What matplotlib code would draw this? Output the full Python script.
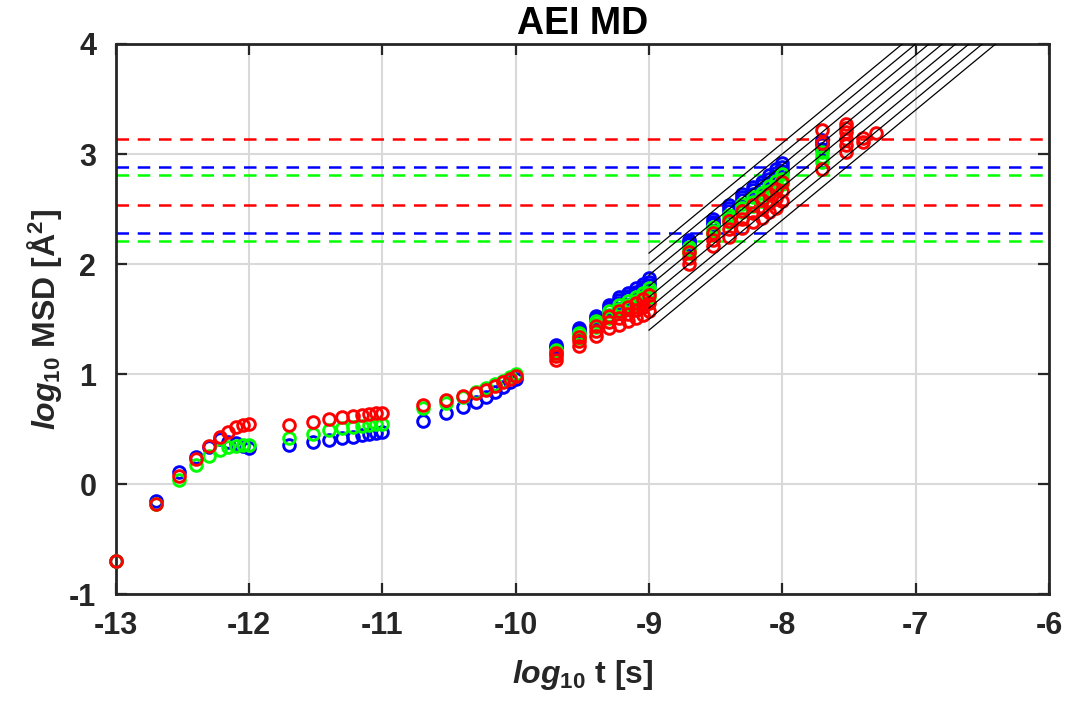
# -*- coding: utf-8 -*-

import numpy as np
import matplotlib
matplotlib.use("Agg")
import matplotlib.pyplot as plt

# sampling times [s] (short part: one value per colour)
t_short = [1e-13, 2e-13, 3e-13, 4e-13, 5e-13, 6e-13, 7e-13, 8e-13, 9e-13, 1e-12,
           2e-12, 3e-12, 4e-12, 5e-12, 6e-12, 7e-12, 8e-12, 9e-12, 1e-11,
           2e-11, 3e-11, 4e-11, 5e-11, 6e-11, 7e-11, 8e-11, 9e-11, 1e-10]

blue_short = [-0.70, -0.15, 0.11, 0.25, 0.34, 0.41, 0.38, 0.37, 0.35, 0.33,
              0.355, 0.385, 0.40, 0.415, 0.43, 0.445, 0.455, 0.466, 0.475,
              0.575, 0.65, 0.70, 0.75, 0.79, 0.84, 0.885, 0.93, 0.96]
green_short = [-0.70, -0.18, 0.04, 0.17, 0.26, 0.31, 0.34, 0.345, 0.355, 0.355,
               0.415, 0.46, 0.49, 0.506, 0.52, 0.527, 0.536, 0.545, 0.55,
               0.69, 0.74, 0.79, 0.84, 0.87, 0.906, 0.94, 0.975, 1.0]
red_short = [-0.70, -0.18, 0.07, 0.23, 0.35, 0.43, 0.475, 0.515, 0.54, 0.55,
             0.536, 0.566, 0.588, 0.606, 0.618, 0.627, 0.636, 0.643, 0.65,
             0.718, 0.764, 0.80, 0.825, 0.86, 0.89, 0.93, 0.96, 0.98]

# long part: three runs per colour
t_long = [2e-10, 3e-10, 4e-10, 5e-10, 6e-10, 7e-10, 8e-10, 9e-10, 1e-9,
          2e-9, 3e-9, 4e-9, 5e-9, 6e-9, 7e-9, 8e-9, 9e-9, 1e-8, 2e-8]

blue_long = [
    [1.26, 1.42, 1.53, 1.63, 1.70, 1.74, 1.78, 1.82, 1.87, 2.22, 2.41, 2.54, 2.64, 2.70, 2.75, 2.81, 2.86, 2.92, 3.13],
    [1.25, 1.40, 1.51, 1.61, 1.675, 1.71, 1.75, 1.79, 1.84, 2.20, 2.385, 2.51, 2.61, 2.67, 2.72, 2.775, 2.825, 2.885, 3.09],
    [1.23, 1.39, 1.49, 1.59, 1.65, 1.69, 1.73, 1.76, 1.81, 2.18, 2.36, 2.48, 2.58, 2.635, 2.685, 2.74, 2.79, 2.85, 3.05],
]
green_long = [
    [1.22, 1.37, 1.48, 1.57, 1.625, 1.66, 1.70, 1.74, 1.78, 2.155, 2.335, 2.45, 2.55, 2.605, 2.65, 2.71, 2.755, 2.815, 3.02],
    [1.205, 1.35, 1.455, 1.54, 1.595, 1.63, 1.665, 1.70, 1.745, 2.13, 2.305, 2.42, 2.51, 2.565, 2.61, 2.665, 2.71, 2.77, 2.97],
    [1.19, 1.33, 1.43, 1.51, 1.56, 1.60, 1.63, 1.665, 1.705, 2.10, 2.27, 2.38, 2.47, 2.525, 2.57, 2.625, 2.67, 2.73, 2.93],
]
red_long = [
    [1.195, 1.34, 1.44, 1.525, 1.575, 1.61, 1.645, 1.68, 1.72, 2.11, 2.285, 2.395, 2.485, 2.54, 2.585, 2.64, 2.685, 2.745, 3.22],
    [1.16, 1.30, 1.395, 1.47, 1.51, 1.545, 1.58, 1.61, 1.645, 2.055, 2.22, 2.32, 2.41, 2.46, 2.50, 2.555, 2.60, 2.66, 3.10],
    [1.13, 1.255, 1.35, 1.42, 1.45, 1.48, 1.51, 1.54, 1.57, 2.00, 2.16, 2.25, 2.33, 2.38, 2.42, 2.47, 2.51, 2.57, 2.86],
]

# red runs that go on past 2e-8 s
t_red_tail = [3e-8, 3e-8, 3e-8, 3e-8, 3e-8, 3e-8, 4e-8, 4e-8, 5e-8]
red_tail = [3.27, 3.24, 3.20, 3.14, 3.08, 3.02, 3.15, 3.11, 3.19]

# plateau levels (dashed) and slope-1 guide lines
blue_levels = [2.88, 2.28]
green_levels = [2.81, 2.21]
red_levels = [3.14, 2.54]
guide_offsets = [2.1, 2.0, 1.9, 1.8, 1.7, 1.6, 1.5, 1.4]

plt.rcParams['font.family'] = ['Liberation Sans', 'DejaVu Sans']
plt.rcParams['font.weight'] = 'bold'
plt.rcParams['axes.unicode_minus'] = False
plt.rcParams['mathtext.fontset'] = 'custom'
plt.rcParams['mathtext.rm'] = 'Liberation Sans:bold'
plt.rcParams['mathtext.bf'] = 'Liberation Sans:bold'
plt.rcParams['mathtext.it'] = 'Liberation Sans:italic:bold'

dark = (0.15, 0.15, 0.15)
colors = {'blue': (0, 0, 1), 'green': (0, 1, 0), 'red': (1, 0, 0)}

fig = plt.figure(figsize=(10.72, 7.04), dpi=100)
ax = fig.add_axes([0.108, 0.156, 0.8705, 0.7815])

# dashed plateau levels
for name, levels in [('red', red_levels), ('blue', blue_levels), ('green', green_levels)]:
    for lv in levels:
        ax.axhline(lv, color=colors[name], lw=1.8, dashes=(5, 3.5), zorder=2)

mk = dict(marker='o', ls='none', mfc='none', ms=8.4, mew=2.1, zorder=3, clip_on=False)
ls = np.log10(t_short)
ll = np.log10(t_long)
for name, short, runs in [('blue', blue_short, blue_long),
                          ('green', green_short, green_long),
                          ('red', red_short, red_long)]:
    ax.plot(ls, short, mec=colors[name], **mk)
    for run in runs:
        ax.plot(ll, run, mec=colors[name], **mk)
ax.plot(np.log10(t_red_tail), red_tail, mec=colors['red'], **mk)

# slope-1 guide lines from log10 t = -9
gx = np.array([-9.0, -6.0])
for c in guide_offsets:
    ax.plot(gx, c + (gx + 9.0), color='k', lw=0.9, zorder=4)

ax.set_xlim(-13, -6)
ax.set_ylim(-1, 4)
ax.set_xticks(np.arange(-13, -5, 1))
ax.set_yticks(np.arange(-1, 5, 1))
ax.grid(True, color=(0.85, 0.85, 0.85), lw=1.5)
ax.set_axisbelow(True)
ax.tick_params(direction='in', length=8, width=1.6, top=True, right=True,
               labelsize=22, colors=dark)
ax.tick_params(axis='x', pad=12)
ax.tick_params(axis='y', pad=14)
for lab in ax.get_xticklabels() + ax.get_yticklabels():
    lab.set_fontweight('bold')
for sp in ax.spines.values():
    sp.set_linewidth(2.0)
    sp.set_color(dark)

ax.set_xlabel(r'$\mathit{log}_{\mathit{10}}$ t [s]', fontsize=23, color=dark,
              fontweight='bold', labelpad=12)
ax.set_ylabel(r'$\mathit{log}_{\mathit{10}}$ MSD [Å$^{2}$]', fontsize=23, color=dark,
              fontweight='bold', labelpad=4)
ax.set_title('AEI MD', fontsize=27, fontweight='bold', color='k', pad=7)

fig.savefig('out.png', dpi=100)
